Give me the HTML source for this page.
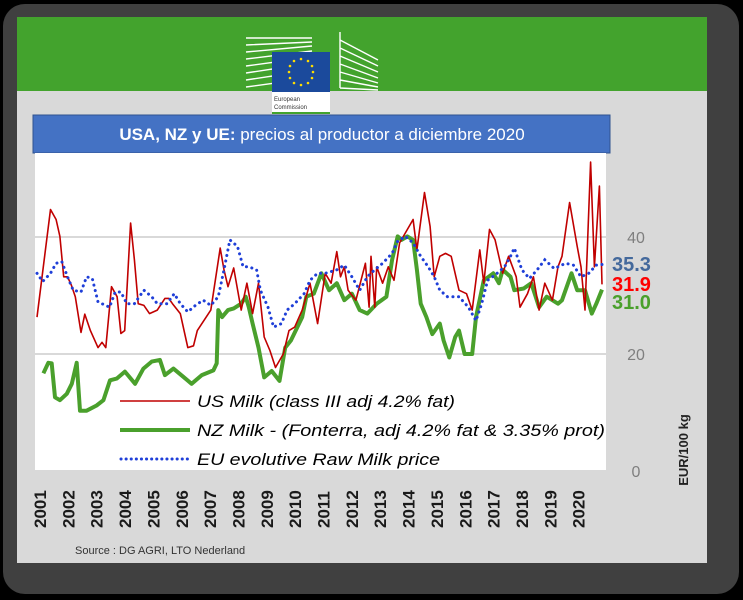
<!DOCTYPE html>
<html><head><meta charset="utf-8">
<style>
html,body{margin:0;padding:0;background:#000;}
svg{display:block;font-family:"Liberation Sans",sans-serif;}
</style></head>
<body>
<svg width="743" height="600" viewBox="0 0 743 600">
  <rect x="3" y="4" width="736" height="590" rx="22" fill="#404040"/>
  <rect x="17" y="17" width="690" height="546" fill="#d9d9d9"/>
  <rect x="17" y="17" width="690" height="74" fill="#43a32d"/>
  <g>
    <g stroke="#fff" stroke-width="1.4" fill="none">
      <path d="M246 38 L312 38 M246 45 L312 42 M246 52 L312 46 M246 59 L312 51 M246 66 L312 57 M246 73 L312 63 M246 80 L312 70 M246 87 L312 78"/>
      <path d="M340 32 L340 88 M340 40 L378 60 M340 48 L378 66 M340 56 L378 72 M340 64 L378 78 M340 72 L378 83 M340 80 L378 87 M340 88 L378 90"/>
    </g>
    <rect x="272" y="52" width="58" height="40" fill="#1b4a9c"/>
    <g fill="#ffdd00">
      <circle cx="301" cy="59" r="1.3"/><circle cx="308" cy="61" r="1.3"/><circle cx="312" cy="66" r="1.3"/><circle cx="313" cy="72" r="1.3"/><circle cx="312" cy="78" r="1.3"/><circle cx="308" cy="83" r="1.3"/><circle cx="301" cy="85" r="1.3"/><circle cx="294" cy="83" r="1.3"/><circle cx="290" cy="78" r="1.3"/><circle cx="289" cy="72" r="1.3"/><circle cx="290" cy="66" r="1.3"/><circle cx="294" cy="61" r="1.3"/>
    </g>
    <rect x="272" y="92" width="58" height="21" fill="#fff"/>
    <rect x="272" y="112" width="58" height="2" fill="#43a32d"/>
    <text x="274" y="101" font-size="6" fill="#333">European</text>
    <text x="274" y="109" font-size="6" fill="#333">Commission</text>
  </g>
  <rect x="33" y="115" width="577" height="38" fill="#4472c4" stroke="#2f528f" stroke-width="1"/>
  <text x="322" y="140" text-anchor="middle" font-size="17" fill="#fff"><tspan font-weight="bold">USA, NZ y UE:</tspan> precios al productor a diciembre 2020</text>
  <rect x="35" y="153" width="571" height="317" fill="#fff"/>
  <g id="grid"></g>
  <g id="series"></g>
  <g id="yaxis"></g>
  <g id="xaxis"></g>
  <g>
    <line x1="120" y1="401" x2="190" y2="401" stroke="#c00000" stroke-width="1.5"/>
    <text x="197" y="407" font-size="17" font-style="italic" textLength="258" lengthAdjust="spacingAndGlyphs">US Milk (class III adj 4.2% fat)</text>
    <line x1="120" y1="430" x2="190" y2="430" stroke="#4aa02c" stroke-width="4"/>
    <text x="197" y="436" font-size="17" font-style="italic" textLength="408" lengthAdjust="spacingAndGlyphs">NZ Milk - (Fonterra, adj 4.2% fat &amp; 3.35% prot)</text>
    <line x1="121" y1="459" x2="190" y2="459" stroke="#1f3fd8" stroke-width="3" stroke-dasharray="0.1 5" stroke-linecap="round"/>
    <text x="197" y="465" font-size="17" font-style="italic" textLength="243" lengthAdjust="spacingAndGlyphs">EU evolutive Raw Milk price</text>
  </g>
  <text x="612" y="271" font-size="20" font-weight="bold" fill="#44699c">35.3</text>
  <text x="612" y="291" font-size="20" font-weight="bold" fill="#ff0000">31.9</text>
  <text x="612" y="309" font-size="20" font-weight="bold" fill="#4aa02c">31.0</text>
  <text transform="translate(688,450) rotate(-90)" text-anchor="middle" font-size="13" font-weight="bold" fill="#222">EUR/100 kg</text>
  <text x="75" y="554" font-size="11" fill="#333">Source : DG AGRI,  LTO Nederland</text>
</svg>
<script>
const yTicks = [0, 20, 40];
const yTickLabels = ["0", "20", "40"];
const gridValues = [20, 40];
const years = ["2001","2002","2003","2004","2005","2006","2007","2008","2009","2010","2011","2012","2013","2014","2015","2016","2017","2018","2019","2020"];
const usMonths = [0,5.7,8.1,9.7,11.3,12.9,14.5,16.2,18.6,20.2,22.6,25.8,27.5,29.1,31.5,33.9,35.5,37.1,39.6,41.2,42.8,45.2,47.6,50.9,54.1,55.7,57.3,60.6,63.8,66.2,67.8,73.5,77.5,79.1,80.8,83.2,86.4,88.8,91.2,93.7,96.1,98.5,100.9,104.2,106.6,109,112.2,115.5,118.7,121.9,124.4,126.8,128.4,130,131.6,134.9,138.9,140.5,141.3,142.9,143.7,146.2,148.6,151,153.4,159.1,160.7,163.9,166.3,168,170.4,172.8,175.2,178.5,181.7,184.1,187.3,189,191.4,193.8,197,199.5,202.7,204.3,207.5,210,212.4,214.8,218,220.4,222.1,225.3,228.5,230.1,231.8,234.2,235.8,237.9,239];
const usValues = [26.3,44.7,43,40.1,33.2,33.2,31.8,29.8,23.7,26.8,24,21.1,22,21.1,31.5,29.8,23.5,24,42.4,36.1,28.6,28.3,26.9,27.5,29.5,29.5,28.6,26.9,21.1,21.4,24,27.5,38.1,34.4,31.5,34.7,27.5,32.1,26.9,32.1,22.9,20.6,17.7,20,24,24.6,27.5,32.1,25.2,33.8,32.1,37.5,33.2,34.9,30.9,29.2,35.5,28,36.7,28,34.9,32.1,34.9,32.6,39,43,37.8,47.6,41.8,33.2,36.7,37.2,36.7,30.9,30.3,27.5,37.8,32.1,41.3,39.5,33.8,36.7,33.2,28,30.3,33.2,27.5,32.1,29.2,34.9,36.7,45.9,38.4,34.9,27.5,52.8,34.9,48.7,31.9];
const nzMonths = [2.7,4.8,6.2,7.6,9.7,12.6,14.7,16.8,18.2,21,25.2,28.1,30.9,33.7,37.2,41.5,45,48.5,52,54.1,57.7,61.9,65.4,69.7,74.6,76,76.7,78.3,80.8,83.2,86.4,88.3,89.6,91.2,93.7,96.1,99.3,102.6,105,107.4,112.2,113.9,117.1,120.3,123.5,126.8,130,133.2,136.5,139.7,143.7,147.8,150.2,152.6,154.2,156.7,159.1,160.7,162.3,164.7,167.2,170.4,172,174.4,176.9,178.5,180.9,184.1,185.7,189,193,195.4,197,200.3,201.9,205.9,209.1,212.4,215.6,218,220.4,222.1,226.1,228.5,231.8,234.7,236.6,239];
const nzValues = [16.7,18.5,18.4,12.6,12.1,13.2,14.9,18.5,10.3,10.3,11.2,12.1,15.5,15.8,17,14.9,17.5,18.7,19,16.4,17.5,16.1,14.9,16.4,17.2,18.4,27.5,26.3,27.5,27.8,28.6,29.8,28,25.2,21.1,16,17.1,15.4,21.1,22.3,26.3,29.8,30.3,33.8,30.9,32.1,29.2,30.3,27.5,26.9,28.6,29.8,36.1,40.1,39.5,40.1,39.5,34.4,28.6,26.3,23.4,25.2,22.3,19.4,22.9,24,20,20,26.3,32.6,33.8,32.1,34.4,33.2,30.9,31.2,32.1,28,29.8,29.2,28.6,29.2,33.8,30.9,30.9,26.9,28.6,31.0];
const euMonths = [0,2.4,5.7,8.1,10.5,12.9,15.3,18.6,21,23.4,25.8,30.7,33.1,35.5,38,41.2,45.2,48.5,50.9,54.9,58.1,60.6,63.8,67,70.3,73.5,76.7,79.1,81.6,84.8,87.2,89.6,92.9,94.5,97.7,100.1,103.4,105.8,109,113,115.5,118.7,121.9,126.8,130,133.2,136.5,139.7,142.9,146.2,150.2,152.6,155.8,159.1,162.3,165.5,168,170.4,173.6,178.5,182.5,185.7,188.1,190.6,193.8,197.8,200.3,201.9,205.1,208.3,211.6,214.8,218.8,223.6,226.9,230.1,233.4,236.6,239];
const euValues = [33.8,32.4,33.8,35.5,35.8,33.2,30.9,30.6,33.2,32.9,28.9,28,30.6,30.6,28.6,28.6,30.9,29.8,28.6,28.6,30.3,28.6,27.2,28.3,29.2,28.3,29.8,34.4,39.5,38.4,34.9,34.9,34.4,30.9,28,24.6,25.2,27.5,28.6,30.3,32.6,33.8,33.8,34.4,35.2,33.2,30.9,33.2,34.4,35.5,37.2,39.3,40.1,39,36.7,34.9,33.2,30.9,29.8,29.8,28,25.7,28.6,32.6,33.5,34.9,36.7,38.1,34.4,32.9,34.4,36.1,34.6,35.5,35.2,33.2,33.8,35.2,35.3];

const NS = "http://www.w3.org/2000/svg";
function xScale(m){ return 37 + m * 2.364; }
function yScale(v){ return 471 - v * 5.85; }
function mk(tag, attrs, parent){ const e = document.createElementNS(NS, tag); for (const k in attrs) e.setAttribute(k, attrs[k]); parent.appendChild(e); return e; }

const grid = document.getElementById('grid');
gridValues.forEach(v => {
  const l = mk('line', {x1:35, x2:606, y1:yScale(v), y2:yScale(v), stroke:'#d9d9d9', 'stroke-width':2}, grid);
  
  
});
const yaxis = document.getElementById('yaxis');
yTicks.forEach((v, i) => {
  const t = mk('text', {x:636, y:yScale(v)+6, 'text-anchor':'middle', 'font-size':16, fill:'#7f7f7f'}, yaxis);
  t.textContent = yTickLabels[i];
  
  
});
const xaxis = document.getElementById('xaxis');
years.forEach((y, i) => {
  const cx = 40 + i * 28.35;
  const t = mk('text', {transform:'translate(' + (cx+6) + ',528) rotate(-90)', 'font-size':17, 'font-weight':'bold', fill:'#1a1a1a'}, xaxis);
  t.textContent = y;
  
  
});
function pathFrom(ms, vs){ return ms.map((m, i) => (i ? 'L' : 'M') + xScale(m).toFixed(1) + ' ' + yScale(vs[i]).toFixed(1)).join(' '); }
const sg = document.getElementById('series');
const nz = mk('path', {d:pathFrom(nzMonths, nzValues), fill:'none', stroke:'#4aa02c', 'stroke-width':4, 'stroke-linejoin':'round'}, sg);


const us = mk('path', {d:pathFrom(usMonths, usValues), fill:'none', stroke:'#c00000', 'stroke-width':1.6, 'stroke-linejoin':'round'}, sg);


const eu = mk('path', {d:pathFrom(euMonths, euValues), fill:'none', stroke:'#1f3fd8', 'stroke-width':3, 'stroke-dasharray':'0.1 5.5', 'stroke-linecap':'round'}, sg);


</script>
</body></html>
